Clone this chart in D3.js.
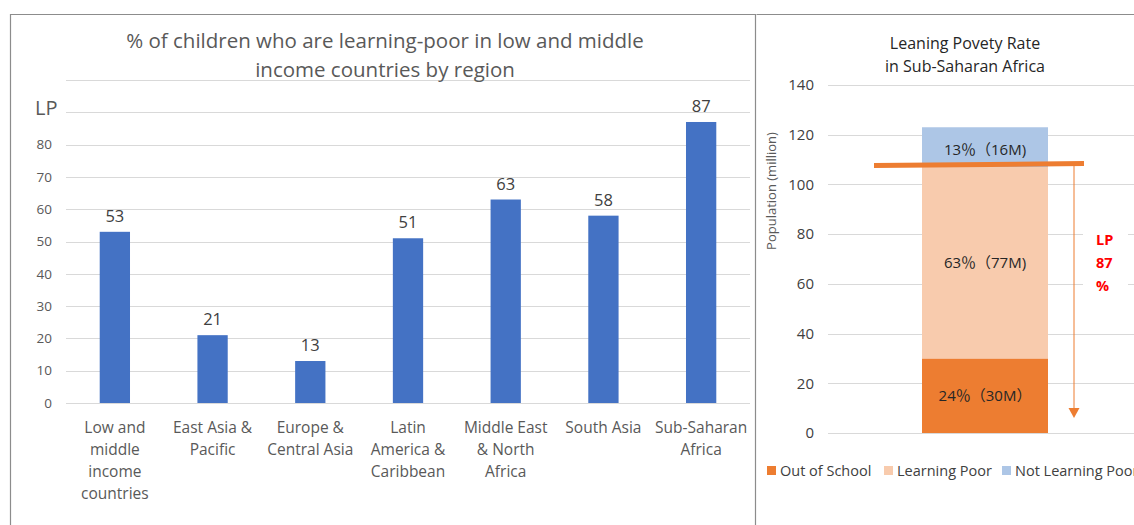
<!DOCTYPE html>
<html>
<head>
<meta charset="utf-8">
<script src="https://cdn.jsdelivr.net/npm/d3@7"></script>
<style>
  body { margin: 0; background: #fff; }
  svg { font-family: "Open Sans", "Noto Sans", "Noto Sans CJK SC", sans-serif; }
</style>
</head>
<body>
<svg id="chart" width="1134" height="525"></svg>
<script>
// left chart: learning poverty by region
const regions = [
  "Low and\nmiddle\nincome\ncountries",
  "East Asia &\nPacific",
  "Europe &\nCentral Asia",
  "Latin\nAmerica &\nCaribbean",
  "Middle East\n& North\nAfrica",
  "South Asia",
  "Sub-Saharan\nAfrica"
];
const lpValues = [53, 21, 13, 51, 63, 58, 87];
const leftTicks = [0, 10, 20, 30, 40, 50, 60, 70, 80];
const leftGrid = [0, 10, 20, 30, 40, 50, 60, 70, 80, 90, 100];

// right chart: Sub-Saharan Africa stacked column
const ssaSeries = ["Out of School", "Learning Poor", "Not Learning Poor"];
const ssaValues = [30, 77, 16];
const ssaLabels = ["24％（30M）", "63％（77M)", "13％（16M)"];
const ssaColors = ["#ED7D31", "#F8CBAD", "#ADC6E6"];
const rightTicks = [0, 20, 40, 60, 80, 100, 120, 140];
const lpLine = 108;

const svg = d3.select("#chart");

// panel borders
svg.append("path")
  .attr("d", "M10.5,525 V14.5 H755.5 V525")
  .attr("fill", "none").attr("stroke", "#8c8c8c").attr("stroke-width", 1.2);
svg.append("path")
  .attr("d", "M756.5,14.5 H1134")
  .attr("fill", "none").attr("stroke", "#8c8c8c").attr("stroke-width", 1.2);

// ---------- left chart ----------
const x = d3.scaleBand()
  .domain(regions)
  .range([66, 750])
  .paddingInner(0.69)
  .paddingOuter(0.345);

const y = d3.scaleLinear().domain([0, 100]).range([403, 80]);

svg.append("g").selectAll("line")
  .data(leftGrid)
  .enter().append("line")
  .attr("x1", 66).attr("x2", 750)
  .attr("y1", d => Math.round(y(d)) + 0.5)
  .attr("y2", d => Math.round(y(d)) + 0.5)
  .attr("stroke", "#d9d9d9").attr("stroke-width", 1);

svg.append("g").selectAll("text")
  .data(leftTicks)
  .enter().append("text")
  .attr("x", 52)
  .attr("y", d => y(d))
  .attr("dy", "0.35em")
  .attr("text-anchor", "end")
  .attr("font-size", 13.5)
  .attr("fill", "#595959")
  .text(d => d);

svg.append("text")
  .attr("x", 35).attr("y", 108)
  .attr("dy", "0.35em")
  .attr("font-size", 20)
  .attr("fill", "#595959")
  .text("LP");

svg.append("g").selectAll("rect")
  .data(lpValues)
  .enter().append("rect")
  .attr("x", (d, i) => x(regions[i]))
  .attr("y", d => y(d))
  .attr("width", x.bandwidth())
  .attr("height", d => y(0) - y(d))
  .attr("fill", "#4472C4");

svg.append("g").selectAll("text")
  .data(lpValues)
  .enter().append("text")
  .attr("x", (d, i) => x(regions[i]) + x.bandwidth() / 2)
  .attr("y", d => y(d) - 10)
  .attr("text-anchor", "middle")
  .attr("font-size", 16.5)
  .attr("fill", "#404040")
  .text(d => d);

let catLabels = svg.append("g").selectAll("text")
  .data(regions)
  .enter().append("text")
  .attr("x", d => x(d) + x.bandwidth() / 2)
  .attr("y", 433)
  .attr("text-anchor", "middle")
  .attr("font-size", 15.5)
  .attr("fill", "#595959");

catLabels.selectAll("tspan")
  .data(d => d.split("\n"))
  .enter().append("tspan")
  .attr("x", function(){ return d3.select(this.parentNode).attr("x"); })
  .attr("dy", (d, i) => i === 0 ? 0 : 22)
  .text(d => d);

svg.append("text")
  .attr("x", 385).attr("y", 48)
  .attr("text-anchor", "middle")
  .attr("font-size", 20.5)
  .attr("fill", "#595959")
  .text("% of children who are learning-poor in low and middle");
svg.append("text")
  .attr("x", 385).attr("y", 77)
  .attr("text-anchor", "middle")
  .attr("font-size", 20.5)
  .attr("fill", "#595959")
  .text("income countries by region");

// ---------- right chart ----------
const y2 = d3.scaleLinear().domain([0, 140]).range([433, 85]);

svg.append("g").selectAll("line")
  .data(rightTicks)
  .enter().append("line")
  .attr("x1", 828).attr("x2", 1134)
  .attr("y1", d => Math.round(y2(d)) + 0.5)
  .attr("y2", d => Math.round(y2(d)) + 0.5)
  .attr("stroke", "#d9d9d9").attr("stroke-width", 1);

svg.append("g").selectAll("text")
  .data(rightTicks)
  .enter().append("text")
  .attr("x", 814)
  .attr("y", d => y2(d))
  .attr("dy", "0.35em")
  .attr("text-anchor", "end")
  .attr("font-size", 15)
  .attr("fill", "#404040")
  .text(d => d);

svg.append("text")
  .attr("transform", "translate(776,191) rotate(-90)")
  .attr("text-anchor", "middle")
  .attr("font-size", 13)
  .attr("fill", "#595959")
  .text("Population (million)");

svg.append("text")
  .attr("x", 965).attr("y", 49)
  .attr("text-anchor", "middle")
  .attr("font-size", 16)
  .attr("fill", "#262626")
  .text("Leaning Povety Rate");
svg.append("text")
  .attr("x", 965).attr("y", 72)
  .attr("text-anchor", "middle")
  .attr("font-size", 16)
  .attr("fill", "#262626")
  .text("in Sub-Saharan Africa");

const stack = d3.stack().keys(ssaSeries)([
  Object.fromEntries(ssaSeries.map((k, i) => [k, ssaValues[i]]))
]);

const bx = 922, bw = 126;

svg.append("g").selectAll("rect")
  .data(stack)
  .enter().append("rect")
  .attr("x", bx)
  .attr("y", d => y2(d[0][1]))
  .attr("width", bw)
  .attr("height", d => y2(d[0][0]) - y2(d[0][1]))
  .attr("fill", (d, i) => ssaColors[i]);

svg.append("g").selectAll("text")
  .data(stack)
  .enter().append("text")
  .attr("x", bx + bw / 2)
  .attr("y", d => (y2(d[0][0]) + y2(d[0][1])) / 2 + (d.index === 2 ? 3 : 0))
  .attr("dy", "0.35em")
  .attr("text-anchor", "middle")
  .attr("font-size", 15)
  .attr("fill", "#262626")
  .text((d, i) => ssaLabels[i]);

// LP threshold line and arrow
svg.append("line")
  .attr("x1", 874).attr("x2", 1084)
  .attr("y1", y2(lpLine) + 1).attr("y2", y2(lpLine) - 1)
  .attr("stroke", "#ED7D31").attr("stroke-width", 5);

svg.append("line")
  .attr("x1", 1074).attr("x2", 1074)
  .attr("y1", y2(lpLine)).attr("y2", 410)
  .attr("stroke", "#ED7D31").attr("stroke-width", 1);
svg.append("path")
  .attr("d", "M1068.5,408 L1079.5,408 L1074,418 Z")
  .attr("fill", "#ED7D31");

svg.append("rect")
  .attr("x", 1083).attr("y", 226).attr("width", 45).attr("height", 72)
  .attr("fill", "#fff");
const lpText = svg.append("text")
  .attr("font-size", 14.5)
  .attr("font-weight", "bold")
  .attr("fill", "#FF0000");
["LP", "87", "%"].forEach((t, i) => {
  lpText.append("tspan")
    .attr("x", 1096).attr("y", 245 + i * 23)
    .text(t);
});

// legend
const legend = svg.append("g").selectAll("g")
  .data(ssaSeries)
  .enter().append("g")
  .attr("transform", (d, i) => "translate(" + [767, 884, 1002][i] + ",466)");
legend.append("rect")
  .attr("width", 9).attr("height", 9)
  .attr("fill", (d, i) => ssaColors[i]);
legend.append("text")
  .attr("x", 13).attr("y", 5)
  .attr("dy", "0.35em")
  .attr("font-size", 14.5)
  .attr("fill", "#404040")
  .text(d => d);
</script>
</body>
</html>
